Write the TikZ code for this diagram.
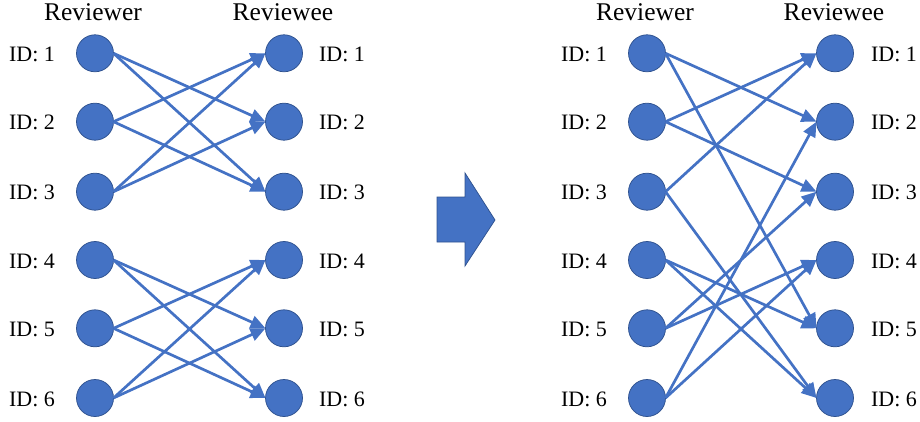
\documentclass[tikz,border=0pt]{standalone}
\usepackage{fontspec}
\setmainfont{Liberation Serif}
\usetikzlibrary{arrows.meta}
\definecolor{officeblue}{HTML}{4472C4}
\definecolor{officeedge}{HTML}{2F528F}
\tikzset{
  person/.style={circle, minimum size=37pt, inner sep=0pt, outer sep=0pt,
    fill=officeblue, draw=officeedge, line width=0.75pt},
  idlabel/.style={anchor=base, inner sep=0pt, font=\fontsize{22}{26}\selectfont},
  header/.style={anchor=base, inner sep=0pt, font=\fontsize{25.5}{30}\selectfont},
  review/.style={draw=officeblue, line width=2.7pt,
    -{Triangle[length=15pt,width=13pt]}},
}
\begin{document}
\begin{tikzpicture}[x=1pt, y=-1pt]
\useasboundingbox (0,0) rectangle (920,422);
% row heights of the six participants
\def\rowlist{1/53.3,2/121.7,3/191.7,4/260,5/328.3,6/398}

% ---- left panel: reviews within two groups of three ----
\node[header] (Lhr) at (93,20.7) {Reviewer};
\node[header] (Lhe) at (283,20.7) {Reviewee};
\foreach \i/\y in \rowlist {
  \node[person] (Lr\i) at (95,\y) {};
  \node[person] (Le\i) at (284,\y) {};
  \node[idlabel] (Lrl\i) at (32,\y+8.3) {ID: \i};
  \node[idlabel] (Lel\i) at (342,\y+8.3) {ID: \i};
}
\foreach \a/\b in {1/2,1/3,2/1,2/3,3/1,3/2,4/5,4/6,5/4,5/6,6/4,6/5}
  \draw[review] (Lr\a.east) -- (Le\b.west);

% ---- transition arrow ----
\fill[officeblue, draw=officeedge, line width=0.75pt] (437,197) -- (465,197) -- (465,173)
  -- (495,220) -- (465,266) -- (465,242) -- (437,242) -- cycle;

% ---- right panel: reviews shuffled across all six ----
\node[header] (Rhr) at (645,20.7) {Reviewer};
\node[header] (Rhe) at (834,20.7) {Reviewee};
\foreach \i/\y in \rowlist {
  \node[person] (Rr\i) at (647,\y) {};
  \node[person] (Re\i) at (835,\y) {};
  \node[idlabel] (Rrl\i) at (584,\y+8.3) {ID: \i};
  \node[idlabel] (Rel\i) at (894,\y+8.3) {ID: \i};
}
\foreach \a/\b in {1/2,1/5,2/1,2/3,3/1,3/6,4/5,4/6,5/3,5/4,6/2,6/4}
  \draw[review] (Rr\a.east) -- (Re\b.west);
\end{tikzpicture}
\end{document}
